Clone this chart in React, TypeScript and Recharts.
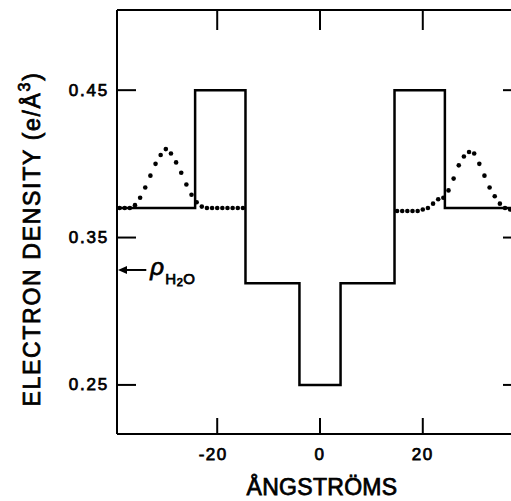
import React from 'react'
import { ComposedChart, Label, Line, ReferenceLine, Scatter, XAxis, YAxis } from 'recharts'

// step profile: level starting at each breakpoint
const stepX = [-39.5, -24.3, -14.5, -4, 4, 14.5, 24.3, 39.5]
const stepY = [0.37, 0.45, 0.319, 0.25, 0.319, 0.45, 0.37, 0.37]

// dotted profile (left and right halves)
const dotLeftX = [
  -39, -38, -37, -36, -35, -34, -33, -32, -31, -30, -29, -28, -27, -26, -25, -24, -23, -22, -21, -20,
  -19, -18, -17, -16, -15,
]
const dotLeftY = [
  0.37, 0.37, 0.37, 0.372, 0.377, 0.384, 0.392, 0.4, 0.406, 0.41, 0.407, 0.401, 0.394, 0.386, 0.379,
  0.374, 0.371, 0.37, 0.37, 0.37, 0.37, 0.37, 0.37, 0.37, 0.37,
]
const dotRightX = [
  15, 16, 17, 18, 19, 20, 21, 22, 23, 24, 25, 26, 27, 28, 29, 30, 31, 32, 33, 34, 35, 36, 37, 38, 39,
]
const dotRightY = [
  0.368, 0.368, 0.368, 0.368, 0.368, 0.369, 0.37, 0.373, 0.376, 0.377, 0.382, 0.39, 0.399, 0.405,
  0.408, 0.407, 0.4, 0.392, 0.384, 0.378, 0.373, 0.37, 0.369, 0.369, 0.369,
]

const xTicks = [-20, 0, 20]
const yTicks = [0.25, 0.35, 0.45]
const xDomain: [number, number] = [-39.5, 39.5]
const yDomain: [number, number] = [0.2167, 0.5044]
const waterLevel = 0.328

// layout
const CHART_W = 540
const CHART_H = 501
const MARGIN = { top: 10, right: 17, bottom: 0, left: 0 }
const PLOT_TOP = MARGIN.top
const PLOT_RIGHT = CHART_W - MARGIN.right

const FONT = '"Liberation Sans", Arial, sans-serif'
const textStyle = { fontFamily: FONT, fill: '#000', stroke: '#000', strokeWidth: 0.75 }

const stepData = stepX.map((x, i) => ({ x, y: stepY[i] }))
const dotData = [
  ...dotLeftX.map((x, i) => ({ x, y: dotLeftY[i] })),
  ...dotRightX.map((x, i) => ({ x, y: dotRightY[i] })),
]

// left tick + its mirror on the right frame
function LeftTick({ x, y, payload }: any) {
  return (
    <g>
      <line x1={x} x2={x + 19} y1={y} y2={y} stroke="#000" strokeWidth={2} />
      <line x1={PLOT_RIGHT - 20} x2={PLOT_RIGHT} y1={y} y2={y} stroke="#000" strokeWidth={2} />
      <text
        x={x - 8}
        y={y}
        textAnchor="end"
        dominantBaseline="central"
        fontSize={17}
        letterSpacing={1.8}
        style={textStyle}
      >
        {payload.value.toFixed(2)}
      </text>
    </g>
  )
}

// bottom tick + its mirror on the top frame
function BottomTick({ x, y, payload }: any) {
  const v = payload.value
  return (
    <g>
      <line x1={x} x2={x} y1={y - 16} y2={y} stroke="#000" strokeWidth={2} />
      <line x1={x} x2={x} y1={PLOT_TOP} y2={PLOT_TOP + 20} stroke="#000" strokeWidth={2} />
      <text
        x={v < 0 ? x - 4 : x}
        y={y + 20}
        textAnchor="middle"
        dominantBaseline="central"
        fontSize={17}
        letterSpacing={1.5}
        style={textStyle}
      >
        {v}
      </text>
    </g>
  )
}

function Dot({ cx, cy }: any) {
  return <circle cx={cx} cy={cy} r={2.3} fill="#000" />
}

function WaterArrow({ x1, y1, x2 }: any) {
  const left = Math.min(x1, x2) + 1
  const right = Math.max(x1, x2)
  return (
    <g>
      <line x1={left + 6} x2={right} y1={y1} y2={y1} stroke="#000" strokeWidth={2} />
      <polygon
        points={`${left},${y1} ${left + 9},${y1 - 4} ${left + 9},${y1 + 4}`}
        fill="#000"
      />
      <text x={right + 4} y={y1 + 5} fontSize={24} fontStyle="italic" style={textStyle}>
        ρ
      </text>
      <text x={right + 19} y={y1 + 14} fontSize={15} letterSpacing={0.5} style={textStyle}>
        H
        <tspan fontSize={11} dy={2}>
          2
        </tspan>
        <tspan dy={-2}>O</tspan>
      </text>
    </g>
  )
}

function YTitle({ viewBox }: any) {
  const cx = viewBox.x + 40
  const cy = viewBox.y + viewBox.height / 2 + 17
  return (
    <text
      x={cx}
      y={cy}
      transform={`rotate(-90 ${cx} ${cy})`}
      textAnchor="middle"
      fontSize={23}
      letterSpacing={1.7}
      style={textStyle}
    >
      ELECTRON DENSITY (e/Å
      <tspan fontSize={16} dy={-10}>
        3
      </tspan>
      <tspan dy={10}>)</tspan>
    </text>
  )
}

// x title, plus the top and right edges of the frame
function XTitle({ viewBox }: any) {
  const cx = viewBox.x + viewBox.width / 2 + 2
  const right = viewBox.x + viewBox.width
  return (
    <g>
      <line x1={viewBox.x} x2={right} y1={PLOT_TOP} y2={PLOT_TOP} stroke="#000" strokeWidth={2} />
      <line x1={right} x2={right} y1={PLOT_TOP} y2={viewBox.y} stroke="#000" strokeWidth={2} />
      <text x={cx} y={viewBox.y + 61} textAnchor="middle" fontSize={23} letterSpacing={0.3} style={textStyle}>
        ÅNGSTRÖMS
      </text>
    </g>
  )
}

export default function App() {
  return (
    <div
      style={{
        position: 'absolute',
        left: 0,
        top: 0,
        width: 511,
        height: 501,
        overflow: 'hidden',
        background: '#fff',
      }}
    >
      <ComposedChart width={CHART_W} height={CHART_H} margin={MARGIN}>
        <XAxis
          dataKey="x"
          type="number"
          domain={xDomain}
          ticks={xTicks}
          interval={0}
          allowDataOverflow
          height={67}
          tickSize={0}
          tickMargin={0}
          tickLine={false}
          tick={<BottomTick />}
          axisLine={{ stroke: '#000', strokeWidth: 2 }}
        >
          <Label content={<XTitle />} />
        </XAxis>
        <YAxis
          dataKey="y"
          type="number"
          domain={yDomain}
          ticks={yTicks}
          interval={0}
          allowDataOverflow
          width={117}
          tickSize={0}
          tickMargin={0}
          tickLine={false}
          tick={<LeftTick />}
          axisLine={{ stroke: '#000', strokeWidth: 2 }}
        >
          <Label content={<YTitle />} />
        </YAxis>
        <Line
          data={stepData}
          dataKey="y"
          type="stepAfter"
          stroke="#000"
          strokeWidth={2.5}
          dot={false}
          activeDot={false}
          isAnimationActive={false}
        />
        <Scatter data={dotData} dataKey="y" shape={<Dot />} isAnimationActive={false} />
        <ReferenceLine
          ifOverflow="visible"
          segment={[
            { x: xDomain[0], y: waterLevel },
            { x: -33.8, y: waterLevel },
          ]}
          shape={<WaterArrow />}
        />
      </ComposedChart>
    </div>
  )
}
